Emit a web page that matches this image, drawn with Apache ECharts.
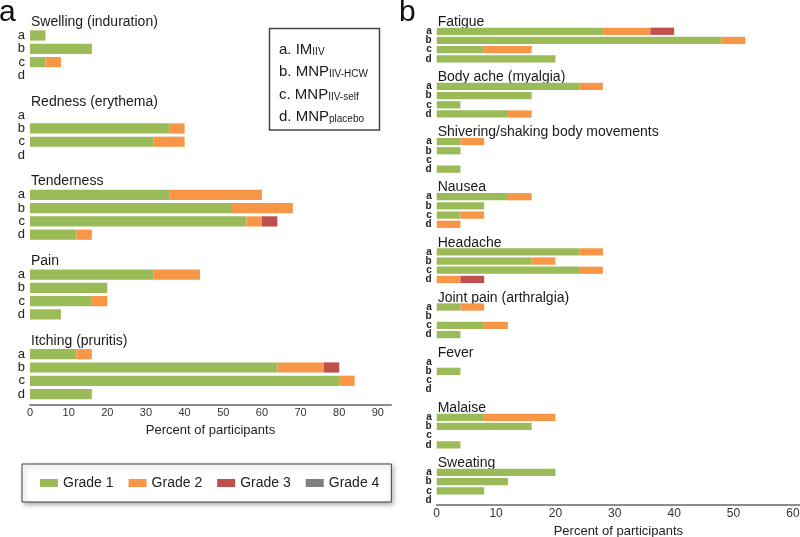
<!DOCTYPE html>
<html>
<head>
<meta charset="utf-8">
<script src="https://cdn.jsdelivr.net/npm/echarts@6/dist/echarts.min.js"></script>
<style>
  html, body { margin: 0; padding: 0; background: #fff; }
  #chart { width: 800px; height: 537px; }
</style>
</head>
<body>
<div id="chart"></div>
<script>
const gradeNames = ['Grade 1', 'Grade 2', 'Grade 3', 'Grade 4']
const gradeColors = ['#9BBB59', '#F79646', '#C0504D', '#7F7F7F']
const groupLetters = ['a', 'b', 'c', 'd']

// panel a: local reactions, 4 values (a,b,c,d) per symptom
const localSymptoms = ['Swelling (induration)', 'Redness (erythema)', 'Tenderness', 'Pain', 'Itching (pruritis)']
const localG1 = [4, 16, 4, 0,  0, 36, 32, 0,  36, 52, 56, 12,  32, 20, 16, 8,  12, 64, 80, 16]
const localG2 = [0, 0, 4, 0,  0, 4, 8, 0,  24, 16, 4, 4,  12, 0, 4, 0,  4, 12, 4, 0]
const localG3 = [0, 0, 0, 0,  0, 0, 0, 0,  0, 0, 4, 0,  0, 0, 0, 0,  0, 4, 0, 0]
const localG4 = []

// panel b: systemic reactions
const systemicSymptoms = ['Fatigue', 'Body ache (myalgia)', 'Shivering/shaking body movements', 'Nausea',
  'Headache', 'Joint pain (arthralgia)', 'Fever', 'Malaise', 'Sweating']
const systemicG1 = [28, 48, 8, 20,  24, 16, 4, 12,  4, 4, 0, 4,  12, 8, 4, 0,  24, 16, 24, 0,
  4, 0, 8, 4,  0, 4, 0, 0,  8, 16, 0, 4,  20, 12, 8, 0]
const systemicG2 = [8, 4, 8, 0,  4, 0, 0, 4,  4, 0, 0, 0,  4, 0, 4, 4,  4, 4, 4, 4,
  4, 0, 4, 0,  0, 0, 0, 0,  12, 0, 0, 0,  0, 0, 0, 0]
const systemicG3 = [4, 0, 0, 0,  0, 0, 0, 0,  0, 0, 0, 0,  0, 0, 0, 0,  0, 0, 0, 4,
  0, 0, 0, 0,  0, 0, 0, 0,  0, 0, 0, 0,  0, 0, 0, 0]
const systemicG4 = []

const insetLines = [['a. IM', 'IIV'], ['b. MNP', 'IIV-HCW'], ['c. MNP', 'IIV-self'], ['d. MNP', 'placebo']]

// each symptom takes 6 slots: blank, title, a, b, c, d
const buildSlots = (symptoms) => {
  const keys = [], rows = [], titles = []
  symptoms.forEach((s, i) => {
    const cells = ['', '', ...groupLetters]
    cells.forEach((c, j) => {
      keys.push('s' + i + '_' + j)
      rows.push(c)
      titles.push(j === 1 ? s : '')
    })
  })
  return { keys, rows, titles }
}

const slotData = (values) => {
  const out = []
  for (let i = 0; i < values.length; i += 4) {
    out.push('-', '-')
    values.slice(i, i + 4).forEach(v => out.push(v === 0 ? '-' : v))
  }
  return out
}

const localSlots = buildSlots(localSymptoms)
const systemicSlots = buildSlots(systemicSymptoms)

const rowAxis = (slots, gridIndex, fontSize, bold) => ({
  type: 'category', gridIndex, data: slots.keys, inverse: true, position: 'left',
  axisLine: { show: false }, axisTick: { show: false }, splitLine: { show: false },
  axisLabel: {
    interval: 0, margin: 5, color: '#222', fontSize, fontWeight: bold ? 'bold' : 'normal',
    fontFamily: 'Liberation Sans, Arial, sans-serif',
    formatter: (v, i) => slots.rows[i]
  }
})

const titleAxis = (slots, gridIndex) => ({
  type: 'category', gridIndex, data: slots.keys, inverse: true, position: 'left',
  axisLine: { show: false }, axisTick: { show: false }, splitLine: { show: false },
  axisLabel: {
    interval: 0, margin: -1, align: 'left', color: '#1a1a1a', fontSize: 14,
    fontFamily: 'Liberation Sans, Arial, sans-serif', padding: [0, 0, 8, 0],
    formatter: (v, i) => slots.titles[i]
  }
})

const valueAxis = (gridIndex, max, fontSize) => ({
  type: 'value', gridIndex, min: 0, max, interval: 10, offset: gridIndex === 0 ? 4 : 0,
  name: 'Percent of participants', nameLocation: 'middle', nameGap: 18,
  nameTextStyle: { color: '#222', fontSize: 13, fontFamily: 'Liberation Sans, Arial, sans-serif' },
  axisLine: { show: true, lineStyle: { color: '#8c8c8c', width: 2 } },
  axisTick: { show: false }, splitLine: { show: false },
  axisLabel: { margin: 3, color: '#333', fontSize, showMaxLabel: false,
    fontFamily: 'Liberation Sans, Arial, sans-serif' }
})

const panelSeries = (grades, xAxisIndex, yAxisIndex, stack, barWidth) =>
  grades.map((vals, k) => ({
    name: gradeNames[k], type: 'bar', stack, xAxisIndex, yAxisIndex, barWidth,
    itemStyle: { color: gradeColors[k] },
    data: slotData(vals)
  }))

const chart = echarts.init(document.getElementById('chart'))

chart.setOption({
  animation: false,
  textStyle: { fontFamily: 'Liberation Sans, Arial, sans-serif' },
  grid: [
    { left: 30, top: 2.3, width: 361, height: 398.4, containLabel: false, outerBoundsMode: 'none' },
    { left: 436.7, top: 8.3, width: 363.3, height: 496.3, containLabel: false, outerBoundsMode: 'none' }
  ],
  xAxis: [valueAxis(0, 93.4, 11), valueAxis(1, 61.2, 12)],
  yAxis: [
    rowAxis(localSlots, 0, 13, false),
    titleAxis(localSlots, 0),
    rowAxis(systemicSlots, 1, 10, true),
    titleAxis(systemicSlots, 1)
  ],
  legend: {
    data: gradeNames, left: 22, top: 464, orient: 'horizontal',
    padding: [12, 12, 12, 18], itemGap: 15, itemWidth: 18, itemHeight: 8, icon: 'rect',
    borderColor: '#444', borderWidth: 1, backgroundColor: '#fff',
    shadowBlur: 5, shadowColor: 'rgba(0,0,0,0.35)', shadowOffsetX: 2, shadowOffsetY: 2,
    textStyle: { color: '#222', fontSize: 14 }
  },
  graphic: [
    { type: 'text', x: -1, y: 12.5, style: { text: 'a', fontSize: 30, fill: '#111', verticalAlign: 'middle' } },
    { type: 'text', x: 399, y: 12.5, style: { text: 'b', fontSize: 30, fill: '#111', verticalAlign: 'middle' } },
    { type: 'rect', shape: { x: 269.5, y: 28.5, width: 110, height: 101.5 },
      style: { fill: '#fff', stroke: '#444', lineWidth: 1.5 } },
    ...insetLines.map((l, i) => ({
      type: 'text', x: 279, y: 49.5 + i * 22.5,
      style: {
        text: '{m|' + l[0] + '}{s|' + l[1] + '}', verticalAlign: 'middle',
        rich: {
          m: { fontSize: 15, lineHeight: 15, verticalAlign: 'top', fill: '#1a1a1a' },
          s: { fontSize: 10, lineHeight: 10, verticalAlign: 'bottom', fill: '#1a1a1a' }
        }
      }
    }))
  ],
  series: [
    ...panelSeries([localG1, localG2, localG3, localG4], 0, 0, 'local', '77%'),
    ...panelSeries([systemicG1, systemicG2, systemicG3, systemicG4], 1, 2, 'systemic', '79%')
  ]
})
</script>
</body>
</html>
